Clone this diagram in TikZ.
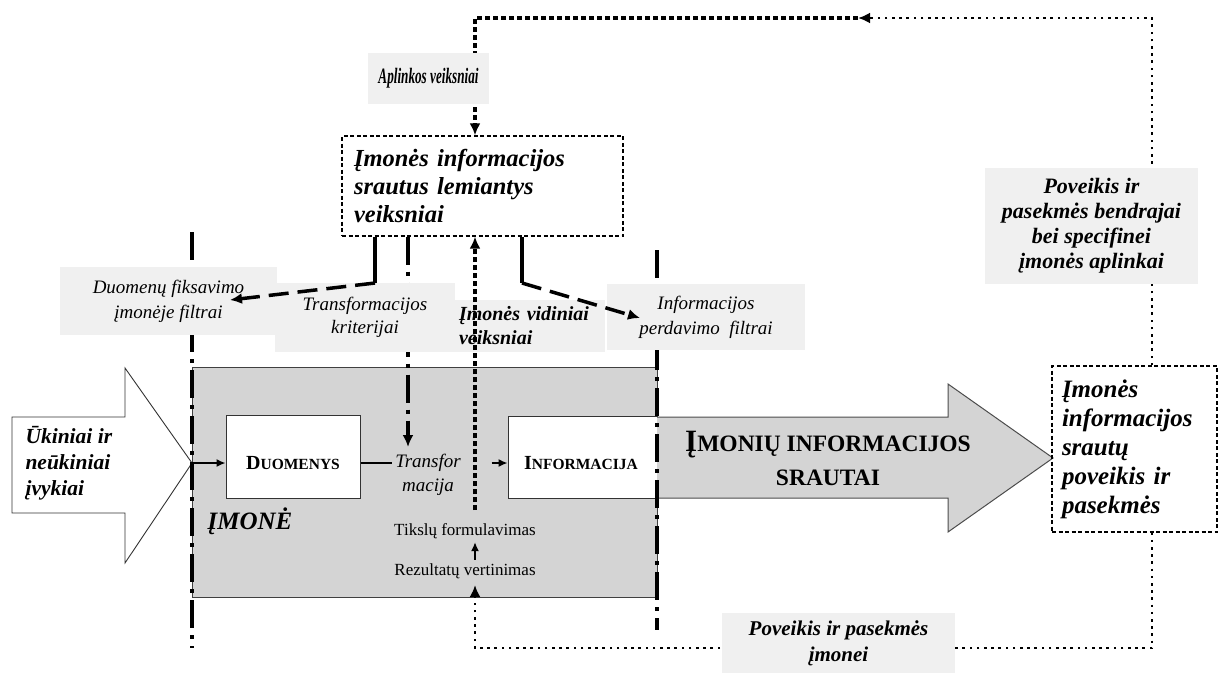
\documentclass[tikz,border=0pt]{standalone}
\usepackage{fontspec}
\setmainfont{Liberation Serif}
\usetikzlibrary{arrows.meta}
\definecolor{boxgray}{RGB}{212,212,212}
\definecolor{lightbg}{RGB}{240,240,240}
\newcommand\fs[2]{\fontsize{#1}{#2}\selectfont}
\begin{document}
\begin{tikzpicture}[x=1pt,y=-1pt,
  gbox/.style={fill=lightbg, inner sep=0pt, align=center},
  dbox/.style={draw, line width=1.3pt, dash pattern=on 4pt off 2.5pt},
  wbox/.style={draw=black!80, line width=1pt, fill=white, inner sep=0pt},
  heavysolid/.style={line width=3.5pt},
  heavydash/.style={line width=3.5pt, dash pattern=on 20pt off 9pt},
  heavydot/.style={line width=4pt, dash pattern=on 5pt off 3pt},
  finedot/.style={line width=2.6pt, dash pattern=on 2.6pt off 4.6pt},
  dashdot/.style={line width=3.5pt, dash pattern=on 28pt off 7pt on 4pt off 7pt},
  tip/.style={-{Latex[length=12pt,width=11pt]}},
  flow/.style={line width=1.5pt, -{Latex[length=9pt,width=8pt]}}
]
\useasboundingbox (0,0) rectangle (1222,675);

% coordinates
\coordinate (tipL) at (192,463);
\coordinate (cL) at (375,283);
\coordinate (cR) at (522,283);
\coordinate (fiksT) at (230,300);
\coordinate (infT) at (640,318);
\coordinate (trX) at (408,447);
\coordinate (cB) at (475,510);
\coordinate (topR) at (1152,18);
\coordinate (topM) at (858,18);
\coordinate (topL) at (475,18);
\coordinate (botR) at (1152,648);
\coordinate (botL) at (475,648);
\coordinate (botA) at (475,585);

% enterprise area
\node[draw=black!75, line width=1pt, fill=boxgray, minimum width=465, minimum height=230, inner sep=0] (imone) at (424.5,482) {};
\node[wbox, minimum width=134, minimum height=83] (duom) at (293,456.5) {};
\node[font=\fs{20}{22}\bfseries] (duomt) at (293,463) {D\fs{15.5}{18}UOMENYS};
\node[wbox, minimum width=149, minimum height=82] (info) at (582.5,457) {};
\node[font=\fs{20}{22}\bfseries] (infot) at (581,463) {I\fs{15.5}{18}NFORMACIJA};
\node[font=\fs{25}{28}\bfseries\itshape] (imt) at (250,521) {ĮMONĖ};
\node[font=\fs{17}{20}] (tiks) at (465,531) {Tikslų formulavimas};
\node[font=\fs{17}{20}] (rez) at (465,571) {Rezultatų vertinimas};

% big gray arrow
\draw[fill=boxgray, draw=black!70, line width=1pt] (657,417) -- (948,417) -- (948,384) -- (1053,458) -- (948,532) -- (948,498) -- (657,498);
\node[font=\fs{31}{34}\bfseries, align=center] (srt) at (828,458) {Į\fs{23.5}{34}MONIŲ INFORMACIJOS\\\fs{23.5}{34}SRAUTAI};

% left hollow arrow
\draw[fill=white, draw=black!80, line width=0.9pt] (12,417) -- (125,417) -- (125,368) -- (tipL) -- (125,563) -- (125,513) -- (12,513) -- cycle;
\node[font=\fs{21.5}{26}\bfseries\itshape, align=left, anchor=west] (uk) at (22,463) {Ūkiniai ir\\neūkiniai\\įvykiai};

% flow inside
\draw[flow] (tipL) -- (tipL -| duom.west);
\node[font=\fs{19}{24}\itshape, align=center] (transf) at (428,475) {Transfor\\macija};
\draw[line width=1.5pt] (duom.east |- tipL) -- (transf.west |- tipL);
\draw[flow] (info.west |- tipL) ++(-16,0) -- (info.west |- tipL);

% factor boxes
\node[dbox, minimum width=281, minimum height=100, text width=257, inner xsep=12, align=left, font=\fs{24.5}{28}\bfseries\itshape] (lem) at (482.5,186) {Įmonės informacijos\\srautus lemiantys\\veiksniai};
\node[dbox, minimum width=165, minimum height=166, text width=145, inner xsep=10, align=left, font=\fs{25}{29}\bfseries\itshape] (rbox) at (1134.5,449) {Įmonės\\informacijos\\srautų\\poveikis ir\\pasekmės};

% vertical boundary lines
\draw[dashdot] (192,232) -- (192,648);
\draw[dashdot] (657,250) -- (657,630);
\draw[dashdot, tip] (trX |- lem.south) -- (trX);

% feedback loops
\draw[finedot, tip] (rbox.north -| topR) -- (topR) -- (topM);
\draw[heavydot, tip] (topM) -- (topL) -- (lem.north -| topL);
\draw[finedot, tip] (rbox.south -| botR) -- (botR) -- (botL) -- (botA);

% label boxes
\node[gbox, minimum width=121, minimum height=51, font=\fs{22}{24}\bfseries\itshape] (aplink) at (428.5,78) {\scalebox{0.6}[1]{Aplinkos veiksniai}};
\node[gbox, minimum width=213, minimum height=116, font=\fs{22}{25}\bfseries\itshape] (povapl) at (1091.5,226) {Poveikis ir\\pasekmės bendrajai\\bei specifinei\\įmonės aplinkai};
\node[gbox, minimum width=233, minimum height=60, font=\fs{21}{26}\bfseries\itshape] (povim) at (838.5,643) {Poveikis ir pasekmės\\įmonei};
\node[gbox, minimum width=217, minimum height=68, font=\fs{19}{25}\itshape] (fiks) at (168.5,301) {Duomenų fiksavimo\\įmonėje filtrai};
\node[gbox, minimum width=180, minimum height=69, font=\fs{19}{23}\itshape] (trk) at (365,317.5) {Transformacijos\\kriterijai};
\node[gbox, minimum width=150, minimum height=52, text width=142, align=left, font=\fs{20}{24}\bfseries\itshape] (vid) at (530,326) {Įmonės vidiniai\\veiksniai};
\node[gbox, minimum width=198, minimum height=66, font=\fs{19}{25}\itshape] (inp) at (706,317) {Informacijos\\perdavimo~~filtrai};

% dashed arrows from the factor box
\draw[heavysolid] (cL |- lem.south) -- (cL);
\draw[heavydash, tip] (cL) -- (fiksT);
\draw[heavysolid] (cR |- lem.south) -- (cR);
\draw[heavydash, tip] (cR) -- (infT);

% internal factors arrows
\draw[heavydot, tip] (cB) -- (cB |- lem.south);
\draw[line width=1.5pt, -{Latex[length=9pt,width=8pt]}] (rez.north -| botL) -- (tiks.south -| botL);
\end{tikzpicture}
\end{document}
